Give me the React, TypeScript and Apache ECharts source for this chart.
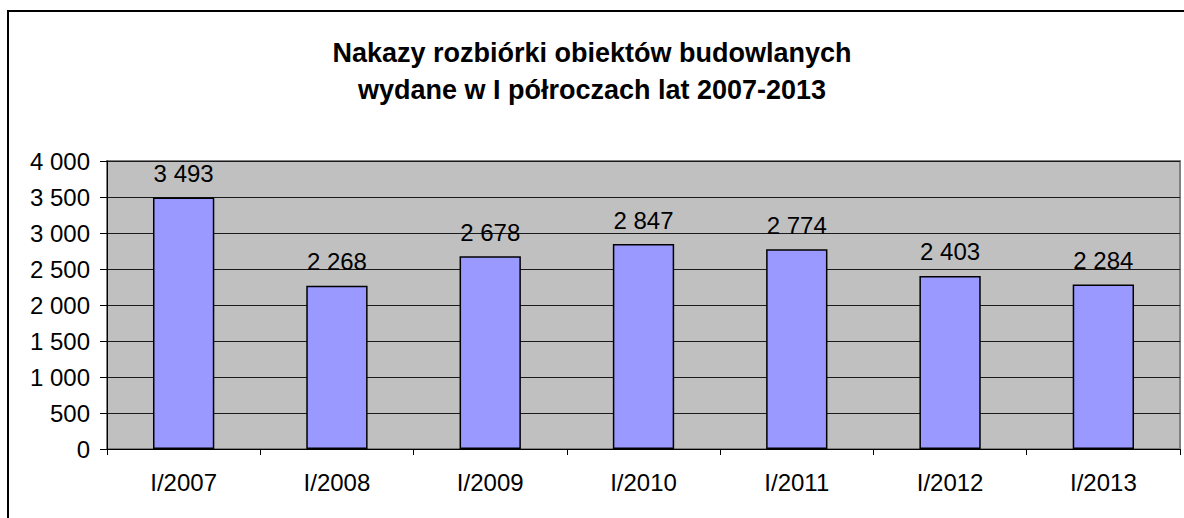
import React, { useEffect, useRef } from "react";
import * as echarts from "echarts";

const titleLines = ["Nakazy rozbiórki obiektów budowlanych", "wydane w I półroczach lat 2007-2013"];
const categories = ["I/2007", "I/2008", "I/2009", "I/2010", "I/2011", "I/2012", "I/2013"];
const values = [3493, 2268, 2678, 2847, 2774, 2403, 2284];
const yMin = 0;
const yMax = 4000;
const yStep = 500;

const fmt = (v: number) => String(v).replace(/\B(?=(\d{3})+(?!\d))/g, " ");

export default function App() {
  const ref = useRef<HTMLDivElement>(null);
  useEffect(() => {
    if (!ref.current) return;
    const chart = echarts.init(ref.current, null, { renderer: "svg" });
    const font = "Liberation Sans, Arial, sans-serif";
    chart.setOption({
      animation: false,
      backgroundColor: "#ffffff",
      textStyle: { fontFamily: font },
      title: {
        text: titleLines.join("\n"),
        left: 587,
        textAlign: "center",
        top: 29,
        textStyle: { fontFamily: font, fontSize: 27, fontWeight: "bold", color: "#000", lineHeight: 37 },
      },
      graphic: [
        {
          type: "rect",
          shape: { x: 8, y: 11, width: 1400, height: 800 },
          style: { fill: "none", stroke: "#000", lineWidth: 2 },
          silent: true,
          z: 100,
        },
      ],
      grid: {
        left: 107,
        top: 161,
        right: 4,
        bottom: 69,
        show: true,
        backgroundColor: "#c0c0c0",
        borderColor: "#808080",
        borderWidth: 2,
      },
      xAxis: {
        type: "category",
        data: categories,
        axisLine: { show: true, lineStyle: { color: "#000", width: 1 } },
        axisTick: { show: true, length: 6, lineStyle: { color: "#000" } },
        axisLabel: { fontSize: 24, color: "#000", margin: 21, fontFamily: font },
        splitLine: { show: false },
      },
      yAxis: {
        type: "value",
        min: yMin,
        max: yMax,
        interval: yStep,
        axisLine: { show: true, lineStyle: { color: "#000", width: 1 } },
        axisTick: { show: true, length: 7, lineStyle: { color: "#000" } },
        axisLabel: { fontSize: 24, color: "#000", margin: 17, fontFamily: font, formatter: (v: number) => fmt(v) },
        splitLine: { show: true, lineStyle: { color: "#1a1a1a", width: 1 } },
      },
      series: [
        {
          type: "bar",
          data: values,
          barCategoryGap: "60%",
          itemStyle: { color: "#9999ff", borderColor: "#000", borderWidth: 1.5 },
          label: {
            show: true,
            position: "top",
            distance: 12,
            fontSize: 24,
            color: "#000",
            fontFamily: font,
            formatter: (p: any) => fmt(p.value),
          },
        },
      ],
    });
    return () => chart.dispose();
  }, []);
  return <div ref={ref} style={{ position: "fixed", left: 0, top: 0, width: 1184, height: 518 }} />;
}
